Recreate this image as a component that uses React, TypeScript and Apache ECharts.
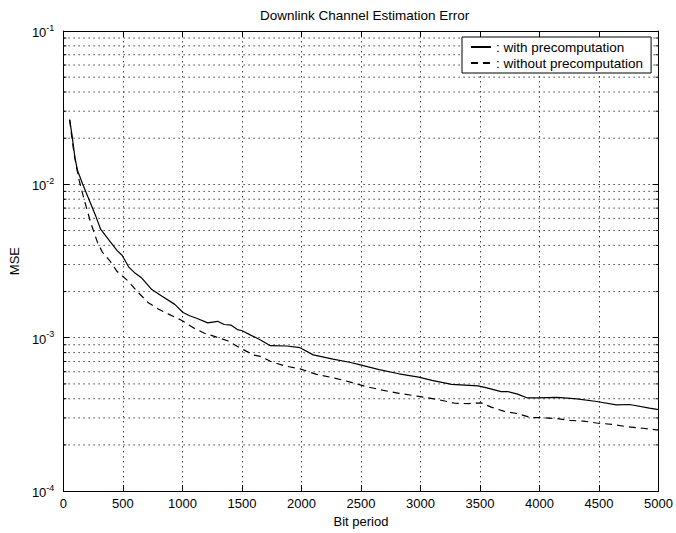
import React, { useEffect, useRef } from "react";
import * as echarts from "echarts";

const bitSolid = [53, 72, 97, 119, 161, 216, 272, 313, 382, 452, 493, 548, 604, 659, 743, 826, 936, 1005, 1061, 1130, 1213, 1296, 1351, 1407, 1462, 1503, 1573, 1620, 1656, 1739, 1877, 1988, 2099, 2265, 2404, 2487, 2653, 2819, 2985, 3096, 3262, 3483, 3567, 3677, 3733, 3816, 3899, 3982, 4148, 4314, 4480, 4646, 4757, 4923, 5000];
const mseSolid = [0.0264, 0.0211, 0.015, 0.0123, 0.0101, 0.00794, 0.00621, 0.0051, 0.00435, 0.0037, 0.00345, 0.0029, 0.00263, 0.00245, 0.00206, 0.00187, 0.00165, 0.00146, 0.00139, 0.00133, 0.00125, 0.00128, 0.00122, 0.00121, 0.00113, 0.00111, 0.00104, 0.001, 0.000966, 0.000887, 0.000883, 0.000861, 0.000773, 0.000726, 0.000692, 0.000668, 0.00062, 0.000582, 0.000554, 0.000527, 0.000497, 0.000486, 0.000469, 0.000445, 0.000446, 0.000429, 0.000405, 0.000405, 0.000409, 0.000399, 0.000384, 0.000365, 0.000367, 0.000348, 0.00034];

const bitDashed = [53, 86, 105, 133, 175, 230, 286, 327, 396, 452, 548, 618, 714, 797, 880, 992, 1102, 1185, 1268, 1379, 1490, 1601, 1656, 1739, 1850, 1988, 2127, 2265, 2404, 2542, 2680, 2819, 2985, 3151, 3289, 3400, 3511, 3594, 3705, 3816, 3927, 4010, 4148, 4259, 4370, 4480, 4619, 4730, 4868, 5000];
const mseDashed = [0.0264, 0.0166, 0.0136, 0.0106, 0.00794, 0.00562, 0.0042, 0.00362, 0.00313, 0.0027, 0.00233, 0.00201, 0.00169, 0.00154, 0.00143, 0.0013, 0.00115, 0.00107, 0.00102, 0.000956, 0.000853, 0.00077, 0.000755, 0.000702, 0.000658, 0.000626, 0.000577, 0.000549, 0.000515, 0.000481, 0.000455, 0.000434, 0.000415, 0.000395, 0.000374, 0.000372, 0.000376, 0.000353, 0.000331, 0.00032, 0.000302, 0.000301, 0.000297, 0.000289, 0.000286, 0.000278, 0.000272, 0.000263, 0.000257, 0.00025];

const decades = [1e-4, 1e-3, 1e-2];
const minorMultipliers = [2, 3, 4, 5, 6, 7, 8, 9];
const seriesNames = [": with precomputation", ": without precomputation"];
const titleText = "Downlink Channel Estimation Error";
const xName = "Bit period";
const yName = "MSE";

export default function App() {
  const ref = useRef<HTMLDivElement>(null);
  useEffect(() => {
    document.body.style.margin = "0";
    const chart = echarts.init(ref.current!, null, { renderer: "svg" });
    const minorVals = decades.flatMap((d) => minorMultipliers.map((m) => m * d));
    const font = "'Liberation Sans', Arial, Helvetica, sans-serif";
    const gridDot = { color: "#444", width: 1, type: [1.5, 3.5] as number[] };
    const axisLine = { show: true, onZero: false, lineStyle: { color: "#000", width: 1 } };
    const tick = { show: true, inside: true, length: 6, lineStyle: { color: "#000", width: 1 } };
    chart.setOption({
      animation: false,
      backgroundColor: "#fff",
      textStyle: { fontFamily: font },
      title: {
        text: titleText,
        left: 255,
        top: 3,
        textStyle: { fontSize: 13.5, fontWeight: "normal", color: "#000", fontFamily: font },
      },
      grid: { left: 57, right: 17, top: 31, bottom: 32, containLabel: false },
      legend: {
        data: seriesNames,
        left: 462,
        top: 37,
        orient: "vertical",
        backgroundColor: "#fff",
        borderColor: "#000",
        borderWidth: 1,
        borderRadius: 0,
        padding: [3, 8, 3, 8],
        itemGap: 2,
        itemWidth: 20,
        itemHeight: 14,
        itemStyle: { color: "transparent", borderColor: "transparent", borderWidth: 0, opacity: 0 },
        textStyle: { fontSize: 13.5, color: "#000", fontFamily: font },
        z: 10,
      },
      xAxis: [
        {
          type: "value",
          min: 0,
          max: 5000,
          interval: 500,
          position: "bottom",
          axisLine,
          axisTick: tick,
          axisLabel: { color: "#000", fontSize: 13, margin: 6, fontFamily: font, formatter: (v: number) => String(v) },
          splitLine: { show: true, lineStyle: gridDot },
          name: xName,
          nameLocation: "middle",
          nameGap: 22,
          nameTextStyle: { fontSize: 13, color: "#000", fontFamily: font },
        },
        {
          type: "value",
          min: 0,
          max: 5000,
          interval: 500,
          position: "top",
          axisLine,
          axisTick: tick,
          axisLabel: { show: false },
          splitLine: { show: false },
        },
      ],
      yAxis: [
        {
          type: "log",
          logBase: 10,
          min: 1e-4,
          max: 1e-1,
          position: "left",
          axisLine,
          axisTick: tick,
          axisLabel: {
            margin: 9,
            formatter: (v: number) => `{b|10}{s|${Math.round(Math.log10(v))}}`,
            rich: {
              b: { fontSize: 13, color: "#000", fontFamily: font, verticalAlign: "bottom", lineHeight: 16 },
              s: { fontSize: 9, color: "#000", fontFamily: font, verticalAlign: "top", lineHeight: 16 },
            },
          },
          splitLine: { show: true, lineStyle: gridDot },
          name: yName,
          nameLocation: "middle",
          nameGap: 33,
          nameRotate: 90,
          nameTextStyle: { fontSize: 13, color: "#000", fontFamily: font },
        },
        {
          type: "log",
          logBase: 10,
          min: 1e-4,
          max: 1e-1,
          position: "right",
          axisLine,
          axisTick: tick,
          axisLabel: { show: false },
          splitLine: { show: false },
        },
      ],
      series: [
        {
          type: "custom",
          silent: true,
          z: 1,
          xAxisIndex: 0,
          yAxisIndex: 0,
          data: minorVals.map((v) => [0, v]),
          renderItem: (params: any, api: any) => {
            const v = api.value(1);
            const a = api.coord([0, v]);
            const b = api.coord([5000, v]);
            return {
              type: "group",
              children: [
                { type: "line", shape: { x1: a[0], y1: a[1], x2: b[0], y2: b[1] }, style: { stroke: "#444", lineWidth: 1, lineDash: [1.5, 3.5] } },
                { type: "line", shape: { x1: a[0], y1: a[1], x2: a[0] + 3, y2: a[1] }, style: { stroke: "#000", lineWidth: 1 } },
                { type: "line", shape: { x1: b[0] - 3, y1: b[1], x2: b[0], y2: b[1] }, style: { stroke: "#000", lineWidth: 1 } },
              ],
            };
          },
        },
        {
          name: seriesNames[0],
          type: "line",
          data: bitSolid.map((b, i) => [b, mseSolid[i]]),
          symbol: "none",
          showSymbol: false,
          lineStyle: { color: "#000", width: 1.2 },
          itemStyle: { color: "#000" },
          z: 5,
        },
        {
          name: seriesNames[1],
          type: "line",
          data: bitDashed.map((b, i) => [b, mseDashed[i]]),
          symbol: "none",
          showSymbol: false,
          lineStyle: { color: "#000", width: 1.2, type: [7, 5] },
          itemStyle: { color: "#000" },
          z: 5,
        },
      ],
    });
    return () => chart.dispose();
  }, []);
  return <div ref={ref} style={{ width: 676, height: 533, position: "absolute", left: 0, top: 0 }} />;
}
